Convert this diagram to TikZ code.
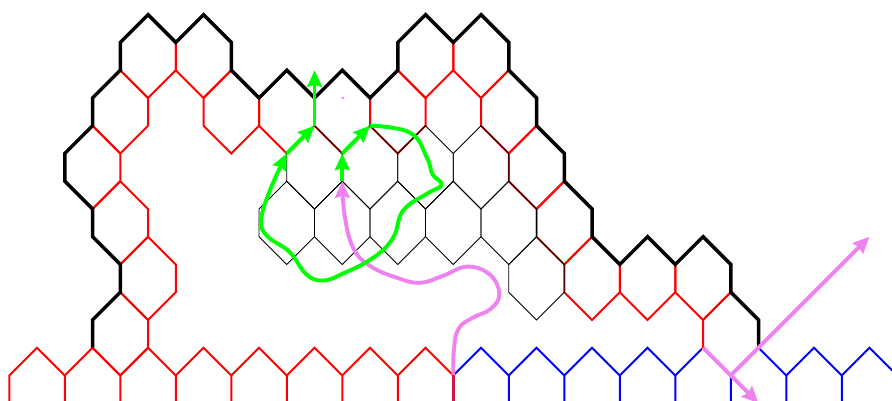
\documentclass[tikz,border=0pt]{standalone}
\usepackage{tikz}
\usetikzlibrary{arrows.meta}
\definecolor{violetarr}{RGB}{238,130,238}
\definecolor{mixedge}{RGB}{208,20,70}
\newcommand{\hexcell}[2]{(#1,#2-1.5) -- (#1+1,#2-0.5) -- (#1+1,#2+0.5) -- (#1,#2+1.5) -- (#1-1,#2+0.5) -- (#1-1,#2-0.5) -- cycle}

\begin{document}
\begin{tikzpicture}[
  x=0.5cm, y=-0.5cm,
  rededge/.style={draw=red, line width=1pt},
  blueedge/.style={draw=blue, line width=1pt},
  thinedge/.style={draw=black, line width=0.45pt},
  wall/.style={draw=black, line width=1.8pt},
  greenarr/.style={draw=green, line width=2pt, -{Stealth[length=8.5pt, width=7.5pt, inset=1pt]}},
  violetline/.style={draw=violetarr, line width=2pt, -{Stealth[length=8.5pt, width=7.5pt, inset=1pt]}}
]
\useasboundingbox (-0.335,-0.53) rectangle (31.81,13.885);
\clip (-0.335,-0.53) rectangle (31.81,13.885);

% bottom row
\foreach \i in {1,3,...,15}
  \draw[rededge] (\i-1,14) -- (\i-1,13) -- (\i,12) -- (\i+1,13);
\foreach \i in {17,19,...,31}
  \draw[blueedge] (\i-1,13) -- (\i,12) -- (\i+1,13) -- (\i+1,14);

% red layer
\foreach \c/\d in {5/1.5, 7/1.5, 15/1.5, 17/1.5, 4/3.5, 8/3.5, 10/3.5, 12/3.5, 14/3.5, 18/3.5,
    3/5.5, 19/5.5, 4/7.5, 20/7.5, 5/9.5, 21/9.5, 23/9.5, 25/9.5, 4/11.5, 26/11.5}
  \draw[rededge] \hexcell{\c}{\d};

% inner cells
\foreach \c/\d in {11/5.5, 13/5.5, 15/5.5, 17/5.5, 10/7.5, 12/7.5, 14/7.5, 16/7.5, 18/7.5, 19/9.5}
  \draw[thinedge] \hexcell{\c}{\d};

% outer wall
\draw[wall] (3,12) -- (3,11) -- (4,10) -- (4,9) -- (3,8) -- (3,7) -- (2,6) -- (2,5) -- (3,4) -- (3,3)
  -- (4,2) -- (4,1) -- (5,0) -- (6,1) -- (7,0) -- (8,1) -- (8,2) -- (9,3) -- (10,2) -- (11,3) -- (12,2)
  -- (13,3) -- (14,2) -- (14,1) -- (15,0) -- (16,1) -- (17,0) -- (18,1) -- (18,2) -- (19,3) -- (19,4)
  -- (20,5) -- (20,6) -- (21,7) -- (21,8) -- (22,9) -- (23,8) -- (24,9) -- (25,8) -- (26,9) -- (26,10)
  -- (27,11) -- (27,12);

\coordinate (stem) at (16,13);
\coordinate (stemend) at (16,14);
\coordinate (a) at (12,6);
\coordinate (b) at (12,5);
\coordinate (c) at (13,4);
\coordinate (d) at (10,5);
\coordinate (e) at (11,4);
\coordinate (f) at (11,2);
\coordinate (fork) at (26,13);
\coordinate (forkin) at (25,12);
\coordinate (forkdown) at (27,14);
\coordinate (forkup) at (31,8);

% violet arrows
\draw[violetline] plot[smooth, tension=0.7] coordinates {(stem) (16.03,12) (16.2,11.3) (16.7,10.92) (17.35,10.6) (17.66,10.05)
  (17.3,9.35) (16.49,9.08) (15.63,9.41) (14.8,9.66) (13.97,9.48) (13,9.05) (12.39,8.4) (12.08,7.2) (a)};
\draw[draw=mixedge, line width=1.6pt] (stem) -- (stemend);
\draw[violetline] (forkin) -- (forkdown);
\draw[violetline] (fork) -- (forkup);
\fill[violetarr] (12.02,3) circle (0.05);

% green arrows
\draw[greenarr] (a) -- (b);
\draw[greenarr] (b) -- (c);
\draw[greenarr] plot[smooth, tension=0.7] coordinates {(c) (14.44,4.25) (15.05,5.15) (15.25,5.75) (15.58,6.13) (15.05,6.45)
  (14.19,7.06) (13.83,8.04) (13.11,8.76) (12.02,9.33) (11.3,9.58) (10.7,9.35) (10.1,8.55) (9.3,7.98)
  (9.08,7.4) (9.39,6.34) (d)};
\draw[greenarr] (d) -- (e);
\draw[greenarr] (e) -- (f);
\end{tikzpicture}
\end{document}
